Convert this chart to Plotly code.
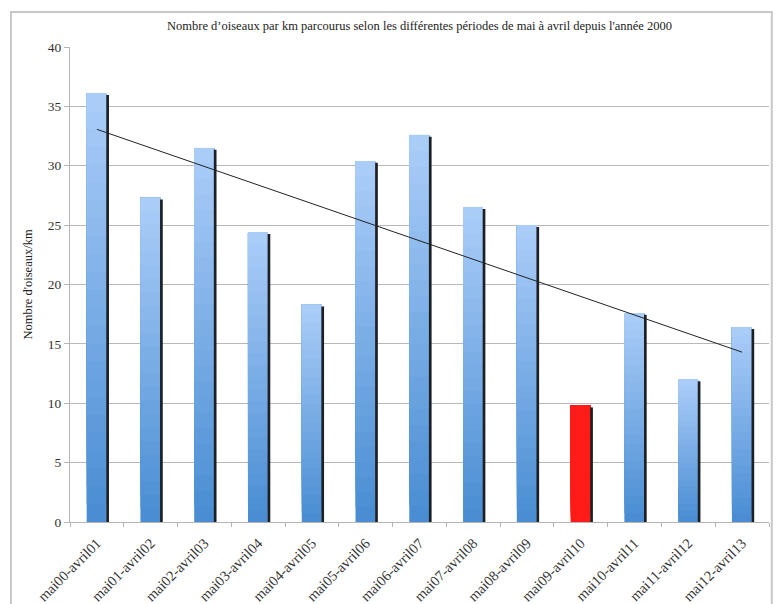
import numpy as np
import plotly.graph_objects as go

categories = ["mai00-avril01", "mai01-avril02", "mai02-avril03", "mai03-avril04",
              "mai04-avril05", "mai05-avril06", "mai06-avril07", "mai07-avril08",
              "mai08-avril09", "mai09-avril10", "mai10-avril11", "mai11-avril12",
              "mai12-avril13"]
values = [36.1, 27.3, 31.5, 24.4, 18.3, 30.4, 32.6, 26.5, 25.0, 9.8, 17.6, 12.0, 16.4]
highlight = "mai09-avril10"

title = "Nombre d’oiseaux par km parcourus selon les différentes périodes de mai à avril depuis l'année 2000"
ytitle = "Nombre d'oiseaux/km"
serif = "'Liberation Serif', 'Times New Roman', serif"

vals = np.array(values)
N = 24
light = np.array([172, 206, 249])
dark = np.array([72, 140, 210])

fig = go.Figure()
BW = 0.37
BO = -0.19
for i in range(N):
    t = (i + 0.5) / N
    c = dark + (light - dark) * t
    col = "rgb(%d,%d,%d)" % tuple(c.round().astype(int))
    colors = ["#ff1b17" if cat == highlight else col for cat in categories]
    base = vals * i / N
    fig.add_trace(go.Bar(x=categories, y=vals - base, base=base,
                         marker=dict(color=colors, line=dict(width=0)),
                         width=BW, offset=BO, showlegend=False, hoverinfo="skip"))

# shadow at the right edge of each bar
fig.add_trace(go.Bar(x=categories, y=vals - 0.15, marker=dict(color="#1c1f24", line=dict(width=0)),
                     width=0.05, offset=BO + BW - 0.005, showlegend=False, hoverinfo="skip"))

# linear trend line
xi = np.arange(len(values))
slope, intercept = np.polyfit(xi, vals, 1)
trend = slope * xi + intercept
fig.add_trace(go.Scatter(x=[categories[0], categories[-1]], y=[trend[0], trend[-1]],
                         mode="lines", line=dict(color="#222222", width=1),
                         showlegend=False, hoverinfo="skip"))

fig.update_layout(
    width=776, height=604,
    margin=dict(l=70, r=7, t=47, b=82),
    paper_bgcolor="white", plot_bgcolor="white",
    barmode="overlay",
    title=dict(text=title, x=0.5, xanchor="center", xref="paper", y=0.958, yanchor="middle",
               font=dict(family=serif, size=12.5, color="#222222")),
    font=dict(family=serif, color="#333333"),
    shapes=[dict(type="rect", xref="paper", yref="paper", x0=-0.0845, x1=1.004, y0=-0.2, y1=1.0737,
                 line=dict(color="#c8c8c8", width=2), fillcolor="rgba(0,0,0,0)", layer="below")],
)
fig.update_xaxes(showline=True, linecolor="#b4b4b4", linewidth=1, showgrid=False, automargin=False,
                 ticks="outside", tickson="boundaries", ticklen=4, tickcolor="#b4b4b4",
                 ticklabelstandoff=6,
                 tickangle=-45, tickfont=dict(family=serif, size=14.5, color="#333333"),
                 range=[-0.5, len(categories) - 0.5])
fig.update_yaxes(range=[0, 40], dtick=5, showline=True, linecolor="#b4b4b4", linewidth=1, automargin=False,
                 showgrid=True, gridcolor="#b8b8b8", gridwidth=1, zeroline=False,
                 ticks="outside", ticklen=5, tickcolor="#b4b4b4",
                 tickfont=dict(family=serif, size=13.5, color="#333333"),
                 title=dict(text=ytitle, font=dict(family=serif, size=12.5, color="#222222"), standoff=12))

fig.write_html("out.html")
